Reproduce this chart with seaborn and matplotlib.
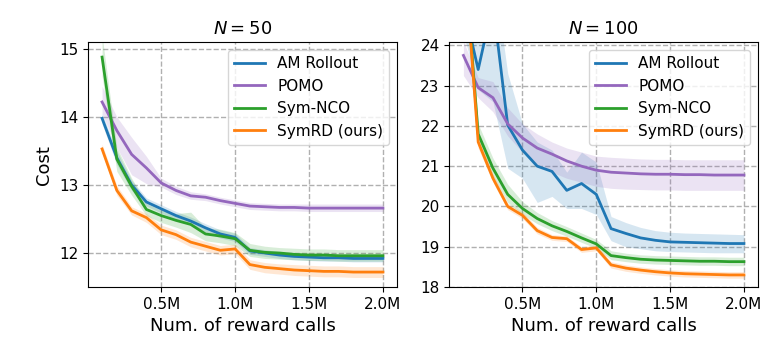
import numpy as np
import pandas as pd
import matplotlib
matplotlib.use("Agg")
import matplotlib.pyplot as plt
import seaborn as sns

calls = [0.1, 0.2, 0.3, 0.4, 0.5, 0.6, 0.7, 0.8, 0.9, 1.0,
         1.1, 1.2, 1.3, 1.4, 1.5, 1.6, 1.7, 1.8, 1.9, 2.0]
methods = ["AM Rollout", "POMO", "Sym-NCO", "SymRD (ours)"]
colors = ["#1f77b4", "#9467bd", "#2ca02c", "#ff7f0e"]

# ---------------- N = 50 ----------------
n50_am = [13.98, 13.40, 13.00, 12.75, 12.65, 12.55, 12.47, 12.37, 12.28, 12.23,
          12.03, 12.00, 11.97, 11.95, 11.94, 11.93, 11.93, 11.92, 11.92, 11.92]
n50_am_lo = [13.90, 13.30, 12.92, 12.69, 12.59, 12.49, 12.41, 12.31, 12.22, 12.17,
             11.98, 11.95, 11.92, 11.90, 11.89, 11.88, 11.88, 11.87, 11.87, 11.87]
n50_am_hi = [14.05, 13.50, 13.07, 12.81, 12.71, 12.61, 12.53, 12.43, 12.34, 12.29,
             12.08, 12.05, 12.02, 12.00, 11.99, 11.98, 11.98, 11.97, 11.97, 11.97]

n50_pomo = [14.22, 13.80, 13.45, 13.25, 13.03, 12.92, 12.84, 12.82, 12.77, 12.73,
            12.69, 12.68, 12.67, 12.67, 12.66, 12.66, 12.66, 12.66, 12.66, 12.66]
n50_pomo_lo = [14.05, 13.55, 13.15, 13.02, 12.97, 12.86, 12.79, 12.77, 12.72, 12.68,
               12.64, 12.63, 12.62, 12.62, 12.61, 12.61, 12.61, 12.61, 12.61, 12.61]
n50_pomo_hi = [14.45, 14.00, 13.70, 13.42, 13.10, 12.98, 12.90, 12.87, 12.82, 12.78,
               12.74, 12.73, 12.72, 12.72, 12.72, 12.72, 12.72, 12.72, 12.72, 12.72]

n50_sym = [14.88, 13.38, 12.98, 12.64, 12.55, 12.48, 12.42, 12.28, 12.25, 12.21,
           12.04, 12.01, 12.00, 11.98, 11.97, 11.97, 11.96, 11.96, 11.96, 11.96]
n50_sym_lo = [14.60, 13.20, 12.85, 12.55, 12.45, 12.38, 12.30, 12.18, 12.15, 12.11,
              11.95, 11.92, 11.91, 11.90, 11.89, 11.89, 11.88, 11.88, 11.88, 11.88]
n50_sym_hi = [15.20, 13.55, 13.10, 12.73, 12.63, 12.58, 12.60, 12.37, 12.35, 12.30,
              12.14, 12.10, 12.08, 12.07, 12.06, 12.06, 12.05, 12.05, 12.05, 12.05]

n50_rd = [13.53, 12.92, 12.62, 12.52, 12.34, 12.27, 12.16, 12.10, 12.04, 12.06,
          11.83, 11.79, 11.77, 11.75, 11.74, 11.73, 11.73, 11.72, 11.72, 11.72]
n50_rd_lo = [13.47, 12.85, 12.56, 12.45, 12.27, 12.20, 12.09, 12.03, 11.97, 11.99,
             11.76, 11.71, 11.69, 11.67, 11.66, 11.65, 11.65, 11.64, 11.64, 11.64]
n50_rd_hi = [13.60, 12.99, 12.68, 12.58, 12.41, 12.34, 12.23, 12.17, 12.11, 12.13,
             11.90, 11.86, 11.84, 11.83, 11.82, 11.81, 11.81, 11.80, 11.80, 11.80]

# ---------------- N = 100 ----------------
n100_am = [25.00, 23.40, 25.05, 22.02, 21.40, 21.00, 20.87, 20.40, 20.57, 20.30,
           19.45, 19.33, 19.22, 19.16, 19.12, 19.11, 19.10, 19.09, 19.08, 19.08]
n100_am_lo = [24.30, 22.90, 22.60, 20.95, 20.70, 20.10, 20.25, 19.95, 19.95, 19.80,
              19.15, 19.00, 18.95, 18.90, 18.88, 18.87, 18.86, 18.85, 18.85, 18.85]
n100_am_hi = [25.80, 24.50, 26.00, 23.30, 22.05, 21.60, 21.40, 20.85, 21.35, 21.10,
              19.75, 19.60, 19.48, 19.40, 19.36, 19.34, 19.33, 19.32, 19.31, 19.30]

n100_pomo = [23.75, 22.95, 22.70, 22.05, 21.70, 21.45, 21.30, 21.13, 21.00, 20.90,
             20.85, 20.83, 20.81, 20.80, 20.80, 20.79, 20.79, 20.78, 20.78, 20.78]
n100_pomo_lo = [23.25, 22.70, 22.35, 21.75, 21.35, 21.05, 20.85, 20.70, 20.60, 20.50,
                20.45, 20.43, 20.42, 20.41, 20.41, 20.40, 20.40, 20.40, 20.40, 20.40]
n100_pomo_hi = [24.10, 23.20, 23.10, 22.45, 22.05, 21.80, 21.60, 21.45, 21.35, 21.25,
                21.22, 21.20, 21.18, 21.17, 21.17, 21.16, 21.16, 21.16, 21.16, 21.16]

n100_sym = [26.50, 21.80, 20.95, 20.30, 19.95, 19.70, 19.52, 19.38, 19.22, 19.07,
            18.78, 18.73, 18.69, 18.67, 18.66, 18.65, 18.64, 18.64, 18.63, 18.63]
n100_sym_lo = [26.00, 21.60, 20.75, 20.10, 19.80, 19.57, 19.40, 19.26, 19.11, 18.96,
               18.68, 18.63, 18.59, 18.57, 18.56, 18.55, 18.54, 18.54, 18.53, 18.53]
n100_sym_hi = [27.00, 22.05, 21.20, 20.55, 20.12, 19.85, 19.65, 19.50, 19.34, 19.18,
               18.90, 18.84, 18.80, 18.78, 18.77, 18.76, 18.75, 18.75, 18.74, 18.74]

n100_rd = [26.50, 21.60, 20.70, 20.00, 19.78, 19.40, 19.23, 19.20, 18.93, 18.97,
           18.55, 18.47, 18.42, 18.38, 18.35, 18.33, 18.32, 18.31, 18.30, 18.30]
n100_rd_lo = [26.00, 21.45, 20.60, 19.92, 19.70, 19.32, 19.16, 19.13, 18.86, 18.90,
              18.47, 18.39, 18.34, 18.30, 18.27, 18.25, 18.24, 18.23, 18.22, 18.22]
n100_rd_hi = [27.00, 21.75, 20.80, 20.08, 19.86, 19.48, 19.30, 19.27, 19.00, 19.04,
              18.63, 18.55, 18.50, 18.46, 18.43, 18.41, 18.40, 18.39, 18.38, 18.38]

panels = [
    dict(title=r"$N=50$", ylim=(11.5, 15.1), yticks=[12, 13, 14, 15],
         series=[(n50_am, n50_am_lo, n50_am_hi), (n50_pomo, n50_pomo_lo, n50_pomo_hi),
                 (n50_sym, n50_sym_lo, n50_sym_hi), (n50_rd, n50_rd_lo, n50_rd_hi)]),
    dict(title=r"$N=100$", ylim=(18.0, 24.08), yticks=[18, 19, 20, 21, 22, 23, 24],
         series=[(n100_am, n100_am_lo, n100_am_hi), (n100_pomo, n100_pomo_lo, n100_pomo_hi),
                 (n100_sym, n100_sym_lo, n100_sym_hi), (n100_rd, n100_rd_lo, n100_rd_hi)]),
]

xticks = [0.5, 1.0, 1.5, 2.0]
xticklabels = ["0.5M", "1.0M", "1.5M", "2.0M"]

plt.rcParams["font.family"] = ["DejaVu Sans"]
plt.rcParams["font.size"] = 11

fig = plt.figure(figsize=(7.81, 3.57), dpi=100)
axes = [fig.add_axes([0.1127, 0.196, 0.3956, 0.686]),
        fig.add_axes([0.5754, 0.196, 0.3951, 0.686])]

for ax, p in zip(axes, panels):
    rows = []
    for m, (mean, lo, hi) in zip(methods, p["series"]):
        for x, y in zip(calls, mean):
            rows.append({"calls": x, "cost": y, "method": m})
    df = pd.DataFrame(rows)
    sns.lineplot(data=df, x="calls", y="cost", hue="method", hue_order=methods,
                 palette=colors, ax=ax, linewidth=2, errorbar=None)
    for c, (mean, lo, hi) in zip(colors, p["series"]):
        ax.fill_between(calls, lo, hi, color=c, alpha=0.18, linewidth=0)
    ax.set_ylim(*p["ylim"])
    ax.set_yticks(p["yticks"])
    ax.set_xticks(xticks)
    ax.set_xticklabels(xticklabels)
    ax.tick_params(labelsize=11)
    ax.grid(True, linestyle="--", color="#b0b0b0", linewidth=1)
    ax.set_axisbelow(True)
    ax.set_title(p["title"], fontsize=13)
    ax.set_xlabel("Num. of reward calls", fontsize=13)
    ax.set_ylabel("")
    leg = ax.legend(loc="upper right", fontsize=11)

axes[0].set_ylabel("Cost", fontsize=13)

fig.savefig("out.png", dpi=100)
